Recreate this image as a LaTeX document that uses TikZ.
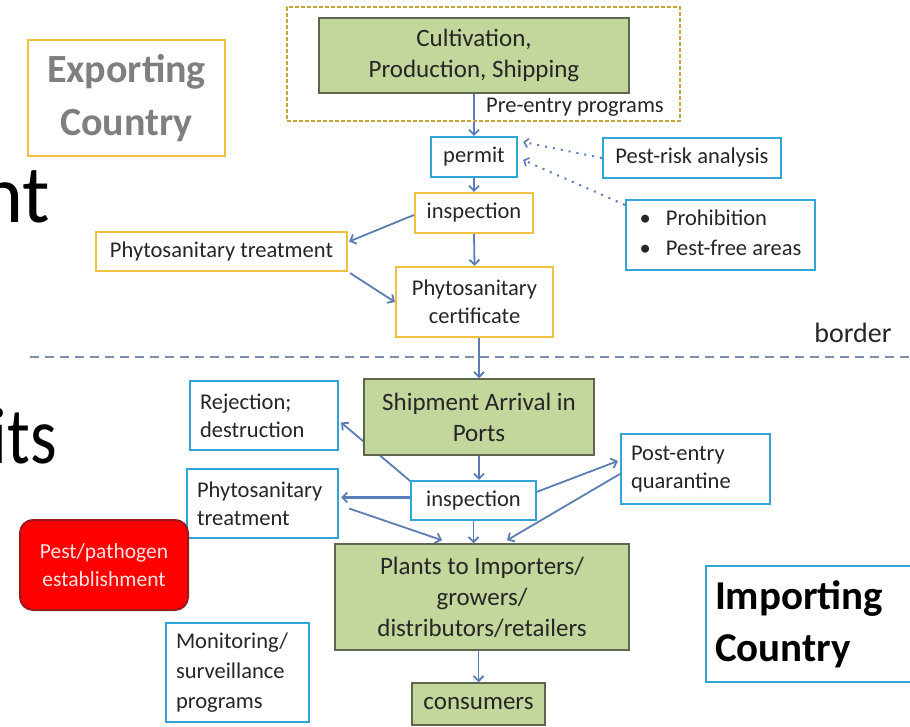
\documentclass[tikz,border=0pt]{standalone}
\usepackage{fontspec}
\setmainfont{Carlito}
\usetikzlibrary{arrows.meta,calc}
\definecolor{gfill}{HTML}{C3D69B}
\definecolor{gdraw}{HTML}{5E6650}
\definecolor{bdraw}{HTML}{31A5D8}
\definecolor{ydraw}{HTML}{F0C040}
\definecolor{arr}{HTML}{5B7DB3}
\definecolor{goldd}{HTML}{C9A43A}
\definecolor{bline}{HTML}{7E8FAE}
\definecolor{redfill}{HTML}{FF0000}
\definecolor{reddraw}{HTML}{9A1A1A}
\definecolor{greytext}{HTML}{7F7F7F}
\definecolor{txt}{HTML}{262626}
\definecolor{pinktext}{HTML}{FFE2E2}
\pgfdeclarelayer{bg}
\pgfsetlayers{bg,main}
\begin{document}
\begin{tikzpicture}[x=1pt,y=-1pt,
  base/.style={rectangle, inner sep=0pt, align=center, text=txt},
  greenbox/.style={base, draw=gdraw, fill=gfill, line width=1.5pt, font=\fontsize{25}{31}\selectfont},
  bluebox/.style={base, draw=bdraw, fill=white, line width=2.2pt, font=\fontsize{22.5}{28}\selectfont},
  yellowbox/.style={base, draw=ydraw, fill=white, line width=2.2pt, font=\fontsize{22.5}{28}\selectfont},
  lefttext/.style={align=left},
  arrow/.style={draw=arr, line width=1.8pt, -{Straight Barb[length=5pt,width=10pt,line width=1.8pt]}},
  dotarrow/.style={draw=arr, line width=2pt, dash pattern=on 2pt off 6pt, -{Straight Barb[length=4pt,width=9pt,line width=1.6pt]}}]
\useasboundingbox (0,0) rectangle (910,727);

% background slide text
\node[anchor=base east, font=\fontsize{82}{90}\selectfont, inner sep=0pt] (nt) at (50,223) {nt};
\node[anchor=base east, font=\fontsize{80}{90}\selectfont, inner sep=0pt] (its) at (57,463) {\scalebox{0.85}[1]{its}};

% exporting side
\node[base, draw=ydraw, line width=2.2pt, minimum width=197, minimum height=116, font=\bfseries\fontsize{40}{53}\selectfont, text=greytext] (exp) at (126.5,98) {Exporting\\Country};
\node[rectangle, draw=goldd, line width=2pt, dash pattern=on 4pt off 2pt, minimum width=393, minimum height=114, inner sep=0pt] (pre) at (483.5,64) {};
\node[greenbox, minimum width=310, minimum height=75] (cult) at (474,55.5) {Cultivation,\\Production, Shipping};
\node[anchor=west, inner sep=0pt, text=txt, font=\fontsize{22.5}{28}\selectfont] (pretxt) at (486,107) {Pre-entry programs};
\node[bluebox, minimum width=86, minimum height=40] (permit) at (474,157) {permit};
\node[bluebox, minimum width=178, minimum height=40] (pra) at (692,158) {Pest-risk analysis};
\node[bluebox, minimum width=189, minimum height=70, font=\fontsize{22.5}{30}\selectfont] (proh) at (720.5,235)
  {\begin{tabular}{@{}l@{\hspace{15pt}}l@{}}\textbullet & Prohibition\\ \textbullet & Pest-free areas\end{tabular}};
\node[yellowbox, minimum width=118, minimum height=40] (insp1) at (474,213) {inspection};
\node[yellowbox, minimum width=251, minimum height=39] (pt1) at (221.5,251.5) {Phytosanitary treatment};
\node[yellowbox, minimum width=157, minimum height=70] (cert) at (474.5,302) {Phytosanitary\\certificate};

% border
\coordinate (bl) at (30,357);
\coordinate (br) at (910,357);
\draw[bline, line width=2.5pt, dash pattern=on 9pt off 6pt] (bl) -- (br);
\node[font=\fontsize{28}{32}\selectfont, inner sep=0pt, text=txt] (border) at (853,333) {border};

% importing side
\node[greenbox, minimum width=230, minimum height=76] (ship) at (479,417) {Shipment Arrival in\\Ports};
\node[bluebox, lefttext, text width=128, minimum width=148, minimum height=69] (rej) at (264,415.5) {Rejection;\\destruction};
\node[bluebox, minimum width=125, minimum height=39] (insp2) at (473.5,500.5) {inspection};
\node[bluebox, lefttext, text width=131, minimum width=151, minimum height=69] (pt2) at (262.5,503.5) {Phytosanitary\\treatment};
\node[bluebox, lefttext, text width=129, minimum width=149, minimum height=70] (post) at (695.5,469) {Post-entry\\quarantine};
\node[greenbox, minimum width=294, minimum height=106] (plants) at (482,597) {Plants to Importers/\\growers/\\distributors/retailers};
\node[greenbox, minimum width=133, minimum height=42] (cons) at (478.5,704) {consumers};
\node[base, draw=reddraw, fill=redfill, line width=2pt, rounded corners=13pt, minimum width=168, minimum height=90, text=pinktext, font=\fontsize{21.5}{28}\selectfont] (pest) at (104,565) {Pest/pathogen\\establishment};
\node[bluebox, lefttext, text width=123, minimum width=143, minimum height=99, font=\fontsize{22.5}{30}\selectfont] (mon) at (237.5,672.5) {Monitoring/\\surveillance\\programs};
\node[bluebox, lefttext, text width=200, minimum width=218, minimum height=116, font=\bfseries\fontsize{41}{52}\selectfont, text=black] (imp) at (815,624) {Importing\\Country};

% connectors
\begin{pgfonlayer}{bg}
\draw[arrow] (cult.south) -- (permit.north);
\draw[dotarrow] (pra.west) -- ($(permit.east)+(5,-15)$);
\draw[dotarrow] ($(proh.north west)+(0,6)$) -- ($(permit.east)+(5,3)$);
\draw[arrow] (permit.south) -- (insp1.north);
\draw[arrow] ($(insp1.west)+(0,2)$) -- ($(pt1.east)+(1,-10)$);
\draw[arrow] ($(pt1.south east)+(2,1)$) -- (cert.west);
\draw[arrow] (insp1.south) -- (cert.north);
\draw[arrow] (ship.north |- cert.south) -- (ship.north);
\draw[arrow] (ship.south) -- (ship.south |- insp2.north);
\draw[arrow] ($(insp2.north west)+(6,6)$) -- ($(rej.east)+(2,7)$);
\draw[arrow, line width=3pt] ($(insp2.west)+(0,-3)$) -- ($(pt2.east |- insp2.west)+(2,-3)$);
\draw[arrow] ($(pt2.east)+(10,5)$) -- ($(plants.north)+(-40,-3)$);
\draw[arrow] ($(post.west)+(0,5)$) -- ($(plants.north)+(25,-3)$);
\draw[arrow] ($(insp2.east)+(-2,-8)$) -- ($(post.west)+(-2,-8)$);
\draw[arrow] (insp2.south) -- (insp2.south |- plants.north);
\draw[arrow] (cons.north |- plants.south) -- (cons.north);
\end{pgfonlayer}
\end{tikzpicture}
\end{document}
